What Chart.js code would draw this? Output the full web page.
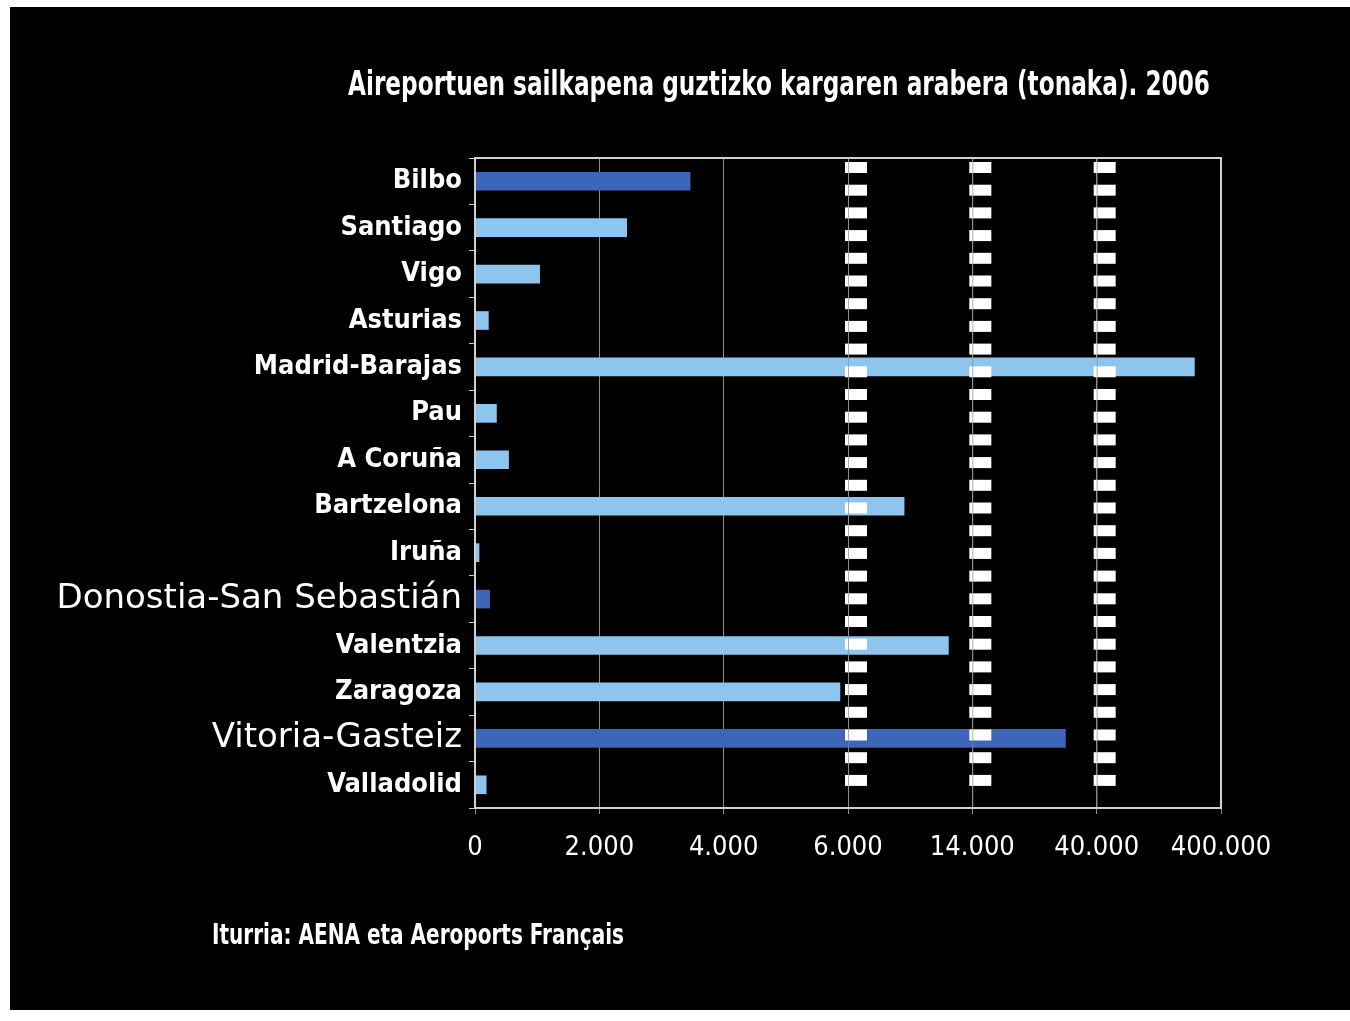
<!DOCTYPE html>
<html>
<head>
<meta charset="utf-8">
<title>Aireportuen sailkapena 2006</title>
<script src="https://cdn.jsdelivr.net/npm/chart.js@4.4.1/dist/chart.umd.min.js"></script>
<style>
  html, body { margin: 0; padding: 0; background: #fff; }
  #frame { position: absolute; left: 10px; top: 7px; width: 1340px; height: 1003px; background: #000; }
  #cargoChart { position: absolute; left: 0; top: 0; }
</style>
</head>
<body>
<div id="frame"></div>
<canvas id="cargoChart" width="1350" height="1021"></canvas>
<script>
// Airport cargo, tonnes, 2006
const airports = ['Bilbo', 'Santiago', 'Vigo', 'Asturias', 'Madrid-Barajas', 'Pau', 'A Coruña',
    'Bartzelona', 'Iruña', 'Donostia-San Sebastián', 'Valentzia', 'Zaragoza', 'Vitoria-Gasteiz', 'Valladolid'];
const cargoTonnes = [3460, 2440, 1040, 215, 323000, 345, 540, 9610, 65, 235, 12460, 5870, 33470, 180];
const basqueAirports = ['Bilbo', 'Donostia-San Sebastián', 'Vitoria-Gasteiz'];

// Axis steps are evenly spaced; 6.000, 14.000 and 40.000 are scale breaks
const axisSteps = [0, 2000, 4000, 6000, 14000, 40000, 400000];
const axisBreaks = [6000, 14000, 40000];

const chartTitle = 'Aireportuen sailkapena guztizko kargaren arabera (tonaka). 2006';
const sourceNote = 'Iturria: AENA eta Aeroports Français';

const NARROW = '"Liberation Sans Narrow", "DejaVu Sans Condensed", sans-serif';
const WIDE = '"DejaVu Sans", sans-serif';
const BIG_LABELS = ['Donostia-San Sebastián', 'Vitoria-Gasteiz'];

// Linear scale made of equal-width pieces between the step values
class SteppedScale extends Chart.LinearScale {
    determineDataLimits() {
        this.min = axisSteps[0];
        this.max = axisSteps[axisSteps.length - 1];
    }
    buildTicks() {
        return axisSteps.map(value => ({ value }));
    }
    getPixelForValue(value) {
        const n = axisSteps.length - 1;
        let i = 0;
        while (i < n - 1 && value > axisSteps[i + 1]) i++;
        const t = (value - axisSteps[i]) / (axisSteps[i + 1] - axisSteps[i]);
        return this.getPixelForDecimal((i + t) / n);
    }
    getValueForPixel(pixel) {
        const n = axisSteps.length - 1;
        const d = this.getDecimalForPixel(pixel) * n;
        const i = Math.max(0, Math.min(n - 1, Math.floor(d)));
        return axisSteps[i] + (d - i) * (axisSteps[i + 1] - axisSteps[i]);
    }
}
SteppedScale.id = 'stepped';
SteppedScale.defaults = Chart.LinearScale.defaults;
Chart.register(SteppedScale);

const thousands = v => String(v).replace(/\B(?=(\d{3})+(?!\d))/g, '.');

// dashed break bars + frame around the plot
const breakMarks = {
    id: 'breakMarks',
    afterDatasetsDraw(chart) {
        const { ctx, chartArea, scales: { x } } = chart;
        ctx.save();
        axisBreaks.forEach(v => {
            const px = x.getPixelForValue(v);
            ctx.fillStyle = '#fff';
            for (let y = chartArea.top + 4; y + 11 <= chartArea.bottom - 2; y += 22.7) {
                ctx.fillRect(px - 3, y, 22, 11);
            }
            ctx.strokeStyle = 'rgba(140,140,140,0.7)';
            ctx.lineWidth = 1;
            ctx.beginPath();
            ctx.moveTo(px + 0.5, chartArea.top);
            ctx.lineTo(px + 0.5, chartArea.bottom);
            ctx.stroke();
        });
        ctx.strokeStyle = '#d0d0d0';
        ctx.lineWidth = 2;
        ctx.strokeRect(chartArea.left, chartArea.top, chartArea.width, chartArea.height);
        ctx.restore();
    }
};

// title and source line
const captions = {
    id: 'captions',
    afterDraw(chart) {
        const { ctx } = chart;
        ctx.save();
        ctx.fillStyle = '#fff';
        ctx.textBaseline = 'middle';
        ctx.textAlign = 'center';
        ctx.font = 'bold 34px ' + NARROW;
        ctx.fillText(chartTitle, 779, 86, 862);
        ctx.textAlign = 'left';
        ctx.font = 'bold 28px ' + NARROW;
        ctx.fillText(sourceNote, 212, 937, 412);
        ctx.restore();
    }
};

new Chart(document.getElementById('cargoChart'), {
    type: 'bar',
    data: {
        labels: airports,
        datasets: [{
            data: cargoTonnes,
            backgroundColor: airports.map(a => basqueAirports.includes(a) ? '#3d65b8' : '#8dc5ee'),
            barThickness: 18
        }]
    },
    options: {
        indexAxis: 'y',
        responsive: false,
        animation: false,
        layout: { padding: { left: 0, top: 158, right: 129, bottom: 153 } },
        plugins: {
            legend: { display: false },
            tooltip: { enabled: false }
        },
        scales: {
            x: {
                type: 'stepped',
                afterFit: scale => { scale.height = 60; },
                border: { color: '#d0d0d0', width: 2 },
                grid: { color: '#8c8c8c', lineWidth: 1, tickLength: 6 },
                ticks: {
                    color: '#fff',
                    padding: 18,
                    font: { family: NARROW, size: 27 },
                    callback: v => thousands(v)
                }
            },
            y: {
                afterFit: scale => { scale.width = 475; },
                border: { color: '#d0d0d0', width: 2 },
                grid: { drawOnChartArea: false, color: '#c8c8c8', tickLength: 6 },
                ticks: {
                    color: '#fff',
                    padding: 7,
                    font: ctx => {
                        const name = airports[ctx.index];
                        return BIG_LABELS.includes(name)
                            ? { family: WIDE, size: 34 }
                            : { family: NARROW, size: 27, weight: 'bold' };
                    }
                }
            }
        }
    },
    plugins: [breakMarks, captions]
});
</script>
</body>
</html>
